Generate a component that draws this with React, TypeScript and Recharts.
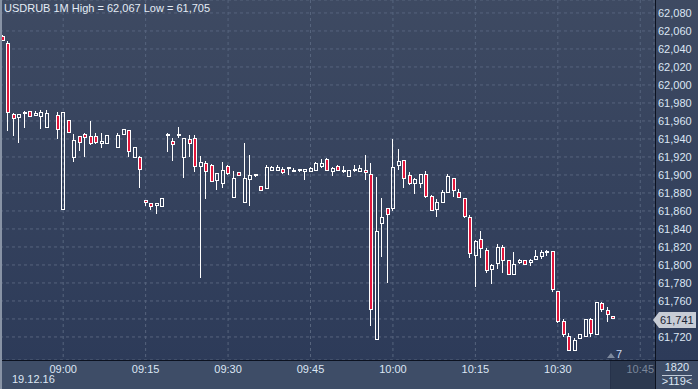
import { ComposedChart, Bar, XAxis, YAxis, CartesianGrid } from 'recharts'

// minute bars 08:49 .. 10:47, null = no trade in that minute
const START_MIN = 8 * 60 + 49
const BAR_COUNT = 119
const times: string[] = []
for (let i = 0; i < BAR_COUNT; i++) {
  const m = START_MIN + i
  times.push(`${String(Math.floor(m / 60)).padStart(2, '0')}:${String(m % 60).padStart(2, '0')}`)
}

const opens: (number | null)[] = [
  62054, 62047, 61968, 61964, 61969, 61971, 61967, 61965, 61953, null,
  61967, 61862, 61961, 61920, 61943, 61946, 61943, 61943, 61936, 61936,
  null, 61931, 61945, 61950, 61920, 61920, 61872, 61869, 61867, 61865,
  61944, 61938, 61945, 61920, 61940, 61941, 61910, 61913, 61911, 61894,
  61891, 61910, 61875, 61903, 61870, 61896, 61900, 61888, 61885, 61906,
  61906, 61907, 61908, 61904, 61905, 61904, 61904, 61905, 61910, 61918,
  61904, 61910, 61904, 61899, 61905, 61904, 61906, 61901, 61718, 61847,
  61863, 61863, 61911, 61917, 61900, 61891, 61891, 61901, 61877, 61862,
  61870, 61881, 61897, 61881, 61874, 61853, 61811, 61829, 61817, 61795,
  61802, 61820, 61806, 61790, 61803, 61806, 61803, 61807, 61810, 61814,
  61815, 61771, 61738, 61721, 61706, 61719, 61721, 61740, 61723, 61758,
  61750, 61743,
]
const highs: (number | null)[] = [
  62055, 62049, 61969, 61968, 61971, 61971, 61971, 61972, 61972, null,
  61970, 61970, 61961, 61946, 61943, 61947, 61960, 61947, 61947, 61944,
  null, 61947, 61951, 61950, 61931, 61921, 61872, 61869, 61869, 61874,
  61947, 61941, 61953, 61941, 61944, 61944, 61921, 61915, 61912, 61902,
  61914, 61911, 61904, 61903, 61936, 61922, 61901, 61888, 61911, 61910,
  61911, 61909, 61909, 61908, 61907, 61907, 61909, 61914, 61918, 61919,
  61909, 61911, 61910, 61906, 61911, 61911, 61922, 61913, 61898, 61874,
  61863, 61940, 61929, 61917, 61903, 61897, 61901, 61904, 61878, 61873,
  61883, 61901, 61897, 61884, 61874, 61855, 61828, 61838, 61819, 61801,
  61823, 61822, 61806, 61814, 61807, 61806, 61807, 61817, 61817, 61817,
  61815, 61771, 61740, 61724, 61719, 61723, 61740, 61741, 61759, 61759,
  61753, 61743,
]
const lows: (number | null)[] = [
  62049, 61949, 61943, 61935, 61952, 61966, 61967, 61951, 61953, null,
  61940, 61862, 61948, 61914, 61927, 61920, 61933, 61934, 61930, 61936,
  null, 61931, 61945, 61920, 61920, 61886, 61865, 61861, 61857, 61865,
  61926, 61915, 61941, 61897, 61920, 61903, 61785, 61873, 61893, 61883,
  61885, 61900, 61875, 61900, 61870, 61865, 61898, 61883, 61885, 61904,
  61904, 61901, 61900, 61904, 61903, 61894, 61903, 61905, 61908, 61904,
  61899, 61904, 61902, 61899, 61903, 61903, 61894, 61732, 61718, 61809,
  61780, 61860, 61905, 61886, 61889, 61879, 61885, 61874, 61861, 61853,
  61870, 61881, 61876, 61874, 61852, 61808, 61776, 61808, 61791, 61779,
  61796, 61791, 61790, 61790, 61801, 61800, 61799, 61806, 61807, 61810,
  61770, 61736, 61720, 61705, 61706, 61718, 61720, 61720, 61723, 61748,
  61737, 61740,
]
const closes: (number | null)[] = [
  62050, 61970, 61963, 61968, 61970, 61966, 61969, 61970, 61969, null,
  61951, 61970, 61948, 61939, 61937, 61942, 61936, 61937, 61938, 61944,
  null, 61944, 61951, 61927, 61931, 61907, 61870, 61866, 61869, 61874,
  61946, 61934, 61946, 61941, 61935, 61910, 61914, 61904, 61893, 61902,
  61906, 61902, 61897, 61900, 61897, 61900, 61901, 61883, 61909, 61909,
  61909, 61903, 61909, 61906, 61907, 61907, 61908, 61913, 61913, 61906,
  61908, 61906, 61906, 61906, 61907, 61908, 61903, 61751, 61838, 61853,
  61857, 61909, 61916, 61897, 61891, 61895, 61901, 61877, 61861, 61870,
  61881, 61899, 61883, 61876, 61854, 61813, 61827, 61819, 61794, 61800,
  61820, 61806, 61790, 61801, 61805, 61801, 61806, 61810, 61814, 61816,
  61773, 61738, 61723, 61706, 61717, 61723, 61740, 61724, 61759, 61751,
  61746, 61741,
]

const timeTicks = ['09:00', '09:15', '09:30', '09:45', '10:00', '10:15', '10:30', '10:45']
const priceTicks = [61720, 61740, 61760, 61780, 61800, 61820, 61840, 61860, 61880, 61900, 61920, 61940, 61960, 61980, 62000, 62020, 62040, 62060, 62080]
const LAST_PRICE = 61741

const data = times.map((t, i) => ({
  time: t,
  open: opens[i] ?? null,
  high: highs[i] ?? null,
  low: lows[i] ?? null,
  close: closes[i] ?? null,
}))

const RED = '#e3163b'
const font = "Arial, 'Liberation Sans', sans-serif"

function Candle(props: any) {
  const { x, y, width, height, payload } = props
  if (payload.high == null || payload.low == null) return null
  const range = payload.high - payload.low
  const k = range > 0 ? height / range : 0
  const px0 = Math.floor(x + width / 2) - 1
  const wx = px0 + 1.5
  const yO = y + (payload.high - payload.open) * k
  const yC = y + (payload.high - payload.close) * k
  const top = Math.round(Math.min(yO, yC))
  let bot = Math.round(Math.max(yO, yC))
  if (bot - top < 1) bot = top + 1
  const bear = payload.close < payload.open
  const hi = Math.round(y)
  const lo = Math.round(y + height)
  return (
    <g>
      {hi < top && <line x1={wx} x2={wx} y1={hi} y2={top} stroke="#ffffff" strokeWidth={1} />}
      {lo > bot && <line x1={wx} x2={wx} y1={bot} y2={lo} stroke="#ffffff" strokeWidth={1} />}
      <rect x={px0 + 0.5} y={top + 0.5} width={3} height={bot - top} fill={bear ? RED : 'none'} stroke="#ffffff" strokeWidth={1} />
    </g>
  )
}

function TimeTick({ x, payload }: any) {
  const future = payload.value === '10:45'
  return (
    <text x={x} y={373} textAnchor="middle" fill={future ? '#7b879b' : '#dce6f4'} fontSize={11} fontFamily={font}>
      {payload.value}
    </text>
  )
}

// the last-price tag covers the nearest level label
function PriceTick({ y, payload }: any) {
  if (Math.abs(payload.value - LAST_PRICE) < 10) return <g />
  return (
    <text x={658} y={y + 4} textAnchor="start" fill="#dce6f4" fontSize={11} fontFamily={font}>
      {Number(payload.value).toLocaleString('en-US')}
    </text>
  )
}

export default function App() {
  return (
    <div style={{ position: 'relative', width: 698, height: 389, overflow: 'hidden', fontFamily: font }}>
      <style>{'body{margin:0}'}</style>
      <div style={{ position: 'absolute', left: 0, top: 0, width: 698, height: 360, background: 'linear-gradient(#3e4a62, #2d3b59)' }} />
      <div style={{ position: 'absolute', left: 0, top: 360, width: 698, height: 29, background: '#3e4d67' }} />
      <div style={{ position: 'absolute', left: 610, top: 361, width: 45, height: 28, background: '#2c3950' }} />
      <ComposedChart
        width={698}
        height={389}
        data={data}
        margin={{ top: 0, right: 0, bottom: 0, left: 0 }}
        barCategoryGap={0}
        style={{ position: 'absolute', left: 0, top: 0 }}
      >
        <CartesianGrid stroke="#56647d" strokeDasharray="3 3" />
        <XAxis
          dataKey="time"
          ticks={timeTicks}
          interval={0}
          height={29}
          axisLine={false}
          tickLine={false}
          tick={<TimeTick />}
        />
        <YAxis
          orientation="right"
          width={44}
          domain={[61694.4, 62094.4]}
          allowDataOverflow
          ticks={priceTicks}
          interval={0}
          axisLine={false}
          tickLine={false}
          tick={<PriceTick />}
        />
        <Bar
          dataKey={(d: any) => (d.high == null ? null : [d.low, d.high])}
          shape={<Candle />}
          isAnimationActive={false}
        />
      </ComposedChart>
      {/* frame lines */}
      <div style={{ position: 'absolute', left: 0, top: 360, width: 698, height: 1, background: '#0c1220' }} />
      <div style={{ position: 'absolute', left: 655, top: 0, width: 1, height: 389, background: '#0c1220' }} />
      <div style={{ position: 'absolute', left: 610, top: 361, width: 1, height: 28, background: '#26324a' }} />
      <div style={{ position: 'absolute', left: 0, top: 0, width: 2, height: 389, background: '#8893a5' }} />
      {/* title */}
      <div style={{ position: 'absolute', left: 4, top: 2, fontSize: 11, color: '#e4ecf6', whiteSpace: 'nowrap' }}>
        USDRUB 1M High = 62,067 Low = 61,705
      </div>
      {/* date */}
      <div style={{ position: 'absolute', left: 12, top: 373, fontSize: 11, color: '#dce6f4' }}>19.12.16</div>
      {/* last price tag */}
      <div
        style={{
          position: 'absolute', left: 653, top: 312, width: 43, height: 16,
          background: '#c7ccd5', clipPath: 'polygon(0 50%, 6px 0, 100% 0, 100% 100%, 6px 100%)',
          color: '#1b2536', fontSize: 11, lineHeight: '16px', paddingLeft: 7, boxSizing: 'border-box',
        }}
      >
        {LAST_PRICE.toLocaleString('en-US')}
      </div>
      {/* bar timer */}
      <div style={{ position: 'absolute', left: 607, top: 353, width: 0, height: 0, borderLeft: '4px solid transparent', borderRight: '4px solid transparent', borderBottom: '5px solid #7d899d' }} />
      <div style={{ position: 'absolute', left: 616, top: 348, fontSize: 11, color: '#c9d9f2' }}>7</div>
      {/* bottom right counters */}
      <div style={{ position: 'absolute', left: 656, top: 361, width: 42, textAlign: 'center', fontSize: 11, color: '#dce6f4' }}>1820</div>
      <div style={{ position: 'absolute', left: 662, top: 375, width: 30, height: 1, background: '#c0cad8' }} />
      <div style={{ position: 'absolute', left: 656, top: 375, width: 42, textAlign: 'center', fontSize: 11, color: '#dce6f4' }}>&gt;119&lt;</div>
    </div>
  )
}
